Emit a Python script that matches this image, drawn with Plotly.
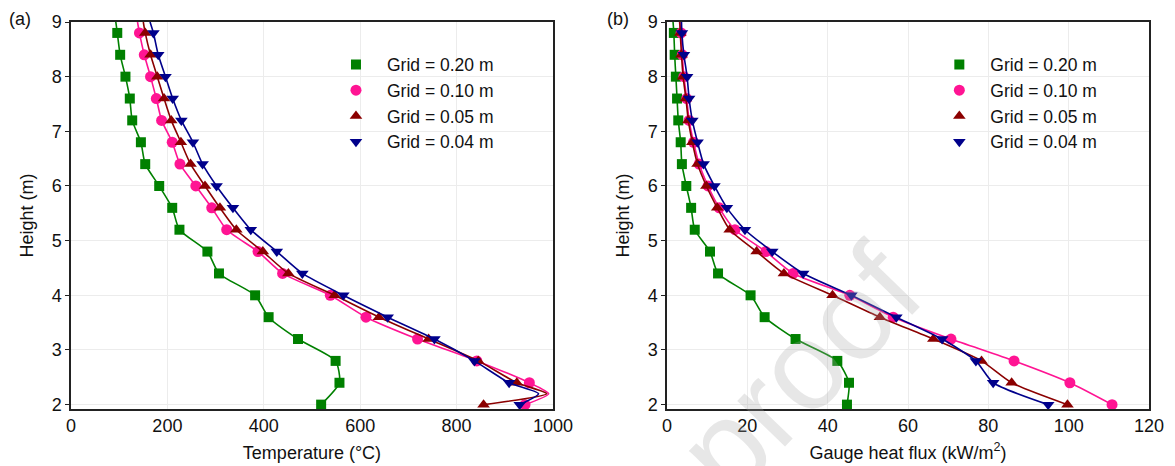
# Profils verticaux : temperature et flux de chaleur (grilles 0.20 / 0.10 / 0.05 / 0.04 m)

import plotly.graph_objects as go

# --- donnees ---
heights = [2.0, 2.4, 2.8, 3.2, 3.6, 4.0, 4.4, 4.8, 5.2, 5.6, 6.0, 6.4, 6.8, 7.2, 7.6, 8.0, 8.4, 8.8]

grid_labels = ["Grid = 0.20 m", "Grid = 0.10 m", "Grid = 0.05 m", "Grid = 0.04 m"]

temp_g020 = [519, 557, 549, 471, 410, 382, 307, 283, 225, 210, 183, 154, 145, 127, 122, 113, 102, 96]
temp_g010 = [942, 951, 842, 719, 612, 538, 439, 388, 323, 292, 259, 226, 210, 188, 177, 165, 152, 142]
temp_g005 = [856, 925, 845, 742, 639, 547, 451, 398, 343, 309, 278, 248, 228, 208, 193, 179, 165, 154]
temp_g004 = [931, 909, 837, 754, 657, 565, 480, 427, 373, 336, 302, 273, 253, 229, 211, 196, 181, 171]
temp_peak_2_2m = [None, 991, 987, 970]   # pic de la courbe a 2.2 m (sans marqueur)
temp_top_9m = [93, 138, 150, 164]        # fin de courbe a 9 m (sans marqueur)

flux_g020 = [44.8, 45.3, 42.4, 32.0, 24.3, 20.8, 12.7, 10.7, 6.9, 6.0, 4.8, 3.7, 3.4, 2.8, 2.5, 2.2, 1.9, 1.7]
flux_g010 = [110.8, 100.3, 86.4, 70.7, 56.3, 45.5, 31.4, 24.6, 16.9, 13.0, 10.2, 8.0, 6.6, 5.5, 4.9, 4.2, 3.8, 3.5]
flux_g005 = [99.7, 85.8, 78.3, 66.3, 53.0, 41.2, 29.1, 22.3, 15.6, 12.5, 9.8, 7.6, 6.3, 5.3, 4.7, 4.0, 3.6, 3.3]
flux_g004 = [94.9, 81.2, 76.9, 68.5, 57.1, 45.9, 33.9, 26.2, 19.4, 14.9, 11.8, 9.1, 7.6, 6.3, 5.5, 5.0, 4.2, 3.7]
flux_top_9m = [1.5, 3.1, 3.2, 3.6]

# --- styles ---
colors = ["#008000", "#ff1493", "#8b0000", "#00008b"]
symbols = ["square", "circle", "triangle-up", "triangle-down"]
sizes = [10, 11, 11, 11]
FONT = "Arial, Liberation Sans, sans-serif"


def line_points(values, top, peak=None):
    """Points de la courbe : marqueurs + pic eventuel a 2.2 m + sommet a 9 m."""
    xs = [values[0]]
    ys = [heights[0]]
    if peak is not None:
        xs.append(peak)
        ys.append(2.2)
    xs += list(values[1:]) + [top]
    ys += list(heights[1:]) + [9.0]
    return xs, ys


fig = go.Figure()

temp_series = [temp_g020, temp_g010, temp_g005, temp_g004]
flux_series = [flux_g020, flux_g010, flux_g005, flux_g004]

for series, tops, peaks, xa, ya, leg in [
    (temp_series, temp_top_9m, temp_peak_2_2m, "x", "y", "legend"),
    (flux_series, flux_top_9m, [None] * 4, "x2", "y2", "legend2"),
]:
    for i, vals in enumerate(series):
        lx, ly = line_points(vals, tops[i], peaks[i])
        fig.add_trace(go.Scatter(
            x=lx, y=ly, mode="lines", xaxis=xa, yaxis=ya,
            line=dict(color=colors[i], width=1.6, shape="spline", smoothing=0.6),
            showlegend=False, hoverinfo="skip",
        ))
        fig.add_trace(go.Scatter(
            x=vals, y=heights, mode="markers", xaxis=xa, yaxis=ya,
            name=grid_labels[i], legend=leg,
            marker=dict(color=colors[i], symbol=symbols[i], size=sizes[i], line=dict(width=0)),
        ))

axis_common = dict(
    showline=True, linecolor="#222", linewidth=1.5, mirror=True, automargin=False,
    showgrid=True, gridcolor="#ececec", gridwidth=1, zeroline=False,
    tickfont=dict(family=FONT, size=18, color="#111"),
    title_font=dict(family=FONT, size=18, color="#111"),
)

legend_common = dict(
    font=dict(family=FONT, size=17.5, color="#111"),
    bgcolor="rgba(0,0,0,0)", borderwidth=0,
    xanchor="left", yanchor="top", itemwidth=52,
)

# la page ajoute une marge de 8 px : figure de 1167 x 458
fig.update_layout(
    width=1167, height=458,
    margin=dict(l=63, r=26, t=14, b=57),
    paper_bgcolor="white", plot_bgcolor="white",
    font=dict(family=FONT, size=18, color="#111"),
    xaxis=dict(domain=[0, 0.4471], range=[0, 1000], dtick=200,
               title=dict(text="Temperature (°C)", standoff=11), **axis_common),
    yaxis=dict(range=[1.92, 9], dtick=1, ticks="outside", ticklen=4, tickcolor="#222",
               title=dict(text="Height (m)", standoff=13), **axis_common),
    xaxis2=dict(domain=[0.5529, 1], range=[0, 120], dtick=20, anchor="y2",
                title=dict(text="Gauge heat flux (kW/m<sup>2</sup>)", standoff=11), **axis_common),
    yaxis2=dict(range=[1.92, 9], dtick=1, anchor="x2", ticks="outside", ticklen=4, tickcolor="#222",
                title=dict(text="Height (m)", standoff=13), **axis_common),
    legend=dict(x=0.2356, y=0.9366, **legend_common),
    legend2=dict(x=0.7953, y=0.9366, **legend_common),
    annotations=[
        dict(text="(a)", x=-0.0473, y=1.0078, xref="paper", yref="paper", showarrow=False,
             xanchor="center", yanchor="middle", font=dict(family=FONT, size=18, color="#111")),
        dict(text="(b)", x=0.5074, y=1.0078, xref="paper", yref="paper", showarrow=False,
             xanchor="center", yanchor="middle", font=dict(family=FONT, size=18, color="#111")),
        # filigrane "proof" de l'epreuve
        dict(text="proof", x=0.6744, y=0.10, xref="paper", yref="paper", showarrow=False,
             xanchor="center", yanchor="middle", textangle=-46,
             font=dict(family=FONT, size=125, color="rgba(170,170,170,0.28)")),
    ],
)

fig.write_html("out.html")
